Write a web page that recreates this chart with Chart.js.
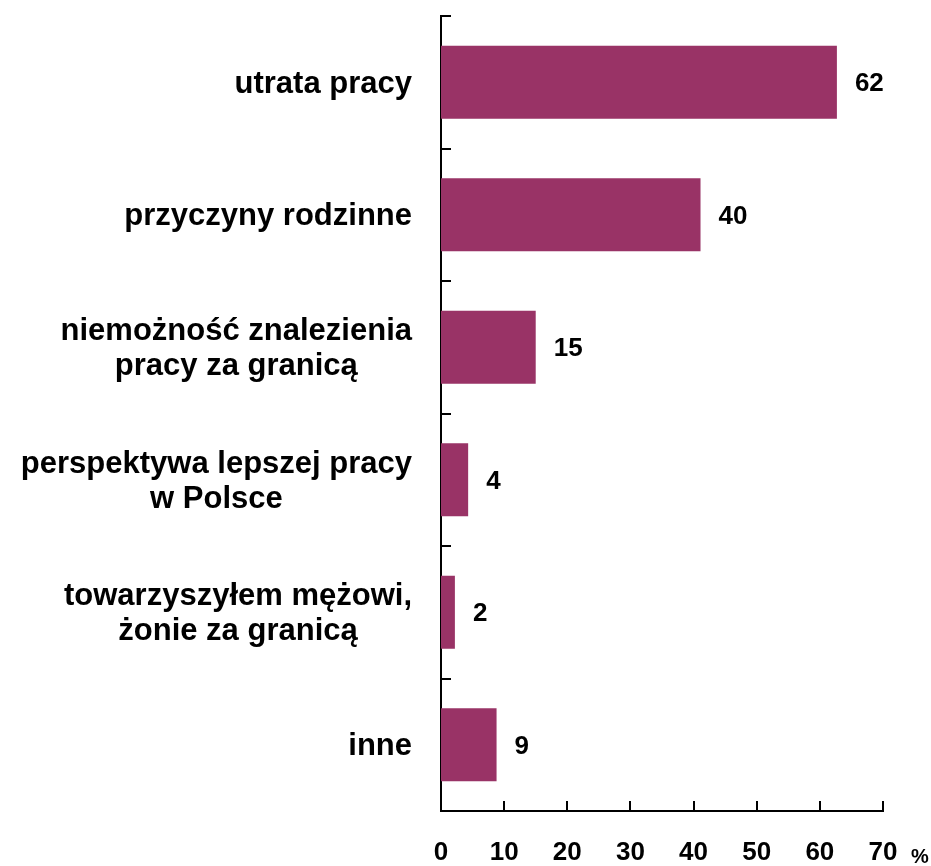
<!DOCTYPE html>
<html>
<head>
<meta charset="utf-8">
<script src="https://cdn.jsdelivr.net/npm/chart.js@4/dist/chart.umd.min.js"></script>
<style>
	html, body { margin: 0; padding: 0; background: #fff; }
	#wrap { width: 931px; height: 866px; }
</style>
</head>
<body>
<div id="wrap"><canvas id="chart" width="931" height="866"></canvas></div>
<script>
// categories (multi-line labels)
const categories = [
	['utrata pracy'],
	['przyczyny rodzinne'],
	['niemożność znalezienia', 'pracy za granicą'],
	['perspektywa lepszej pracy', 'w Polsce'],
	['towarzyszyłem mężowi,', 'żonie za granicą'],
	['inne'],
];
// bar lengths, printed labels as shown
const values = [62.7, 41.1, 15.0, 4.3, 2.2, 8.8];
const valueLabels = ['62', '40', '15', '4', '2', '9'];
const xTicks = [0, 10, 20, 30, 40, 50, 60, 70];
const unitLabel = '%';

const FONT = "'Liberation Sans', Arial, sans-serif";

const decorations = {
	id: 'decorations',
	afterDraw(chart) {
		let ctx = chart.ctx;
		let x = chart.scales.x;
		let y = chart.scales.y;
		let area = chart.chartArea;

		ctx.save();
		ctx.strokeStyle = '#000';
		ctx.lineWidth = 2;

		// ticks on the value axis, pointing inward
		for(const v of xTicks)
		{
			let px = Math.round(x.getPixelForValue(v));
			if(v==0)
				continue;
			ctx.beginPath();
			ctx.moveTo(px, area.bottom);
			ctx.lineTo(px, area.bottom - 10);
			ctx.stroke();
		}

		// ticks between categories, pointing inward
		for(let i=0;i<categories.length;i++)
		{
			let py = Math.round(y.getPixelForValue(i - 0.5));
			ctx.beginPath();
			ctx.moveTo(area.left, py);
			ctx.lineTo(area.left + 10, py);
			ctx.stroke();
		}

		// category labels: block right aligned, lines centred
		ctx.fillStyle = '#000';
		ctx.font = 'bold 31px ' + FONT;
		ctx.textAlign = 'center';
		ctx.textBaseline = 'middle';
		let lineH = 35;
		categories.forEach((lines, i) => {
			let w = Math.max(...lines.map(l => ctx.measureText(l).width));
			let cx = area.left - 29 - w / 2;
			let cy = y.getPixelForValue(i) + 2;
			let y0 = cy - (lines.length - 1) * lineH / 2;
			lines.forEach((l, j) => ctx.fillText(l, cx, y0 + j * lineH));
		});

		// value labels
		ctx.font = 'bold 26px ' + FONT;
		ctx.textAlign = 'left';
		let meta = chart.getDatasetMeta(0);
		meta.data.forEach((bar, i) => {
			ctx.fillText(valueLabels[i], bar.x + 18, bar.y + 2);
		});

		// unit after last tick label
		ctx.font = 'bold 20px ' + FONT;
		ctx.textBaseline = 'alphabetic';
		ctx.fillText(unitLabel, x.getPixelForValue(70) + 28, 863);

		ctx.restore();
	}
};

new Chart(document.getElementById('chart'), {
	type: 'bar',
	data: {
		labels: categories,
		datasets: [{
			data: values,
			backgroundColor: '#993366',
			borderWidth: 0,
			categoryPercentage: 1,
			barPercentage: 0.55,
		}],
	},
	options: {
		indexAxis: 'y',
		responsive: false,
		animation: false,
		layout: {
			padding: {left: 441, right: 48, top: 16, bottom: 0},
		},
		plugins: {
			legend: {display: false},
			tooltip: {enabled: false},
		},
		scales: {
			x: {
				min: 0,
				max: 70,
				grid: {display: false, drawTicks: false},
				border: {display: true, color: '#000', width: 2},
				ticks: {
					stepSize: 10,
					padding: 26,
					color: '#000',
					font: {family: FONT, size: 26, weight: 'bold'},
					maxRotation: 0,
				},
				afterFit: scale => { scale.height = 55; },
			},
			y: {
				grid: {display: false, drawTicks: false},
				border: {display: true, color: '#000', width: 2},
				ticks: {display: false},
			},
		},
	},
	plugins: [decorations],
});
</script>
</body>
</html>
